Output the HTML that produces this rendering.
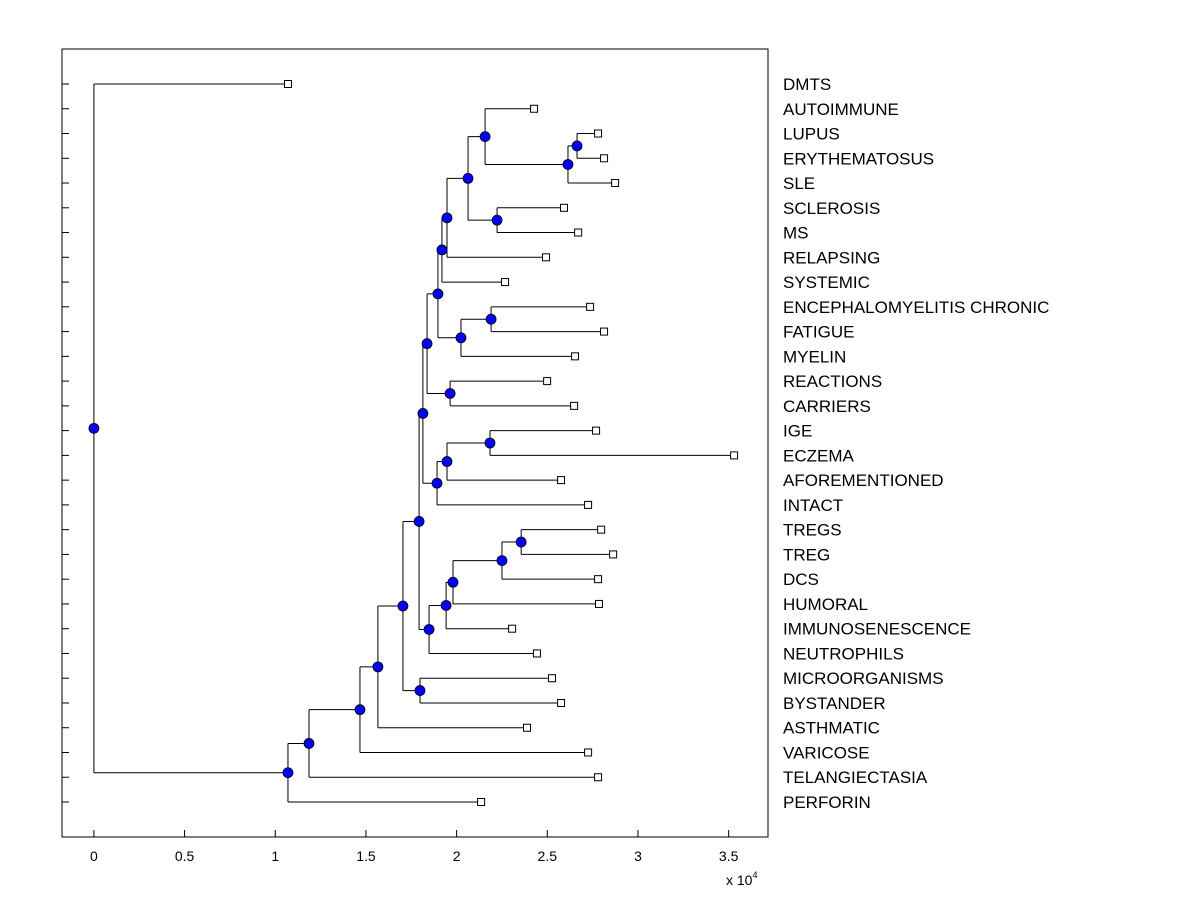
<!DOCTYPE html>
<html><head><meta charset="utf-8"><style>
body{margin:0;background:#fff;}
svg{display:block;font-family:"Liberation Sans",Arial,sans-serif;}
</style></head><body>
<svg id="c" width="1200" height="900" xmlns="http://www.w3.org/2000/svg"></svg>
<script>
const leafLabels=["DMTS","AUTOIMMUNE","LUPUS","ERYTHEMATOSUS","SLE","SCLEROSIS","MS","RELAPSING","SYSTEMIC","ENCEPHALOMYELITIS CHRONIC","FATIGUE","MYELIN","REACTIONS","CARRIERS","IGE","ECZEMA","AFOREMENTIONED","INTACT","TREGS","TREG","DCS","HUMORAL","IMMUNOSENESCENCE","NEUTROPHILS","MICROORGANISMS","BYSTANDER","ASTHMATIC","VARICOSE","TELANGIECTASIA","PERFORIN"];
const leafValues=[1.07,2.427,2.78,2.813,2.874,2.592,2.67,2.493,2.267,2.736,2.813,2.653,2.499,2.648,2.769,3.53,2.576,2.725,2.797,2.863,2.78,2.785,2.306,2.443,2.526,2.576,2.388,2.725,2.78,2.135];
const nodeNames=["nLu","nLE","nAu","nSM","nL","nS","nC","nEF","nF","nB","nRC","nA","nIG","nE","nI","nTop","nTT","nTreg","nD","nH","nBot","n6","nMB","n5","n4","n3","n2","nP","root"];
const nodeLeft=["LUPUS","nLu","AUTOIMMUNE","SCLEROSIS","nAu","nL","nS","ENCEPHALOMYELITIS CHRONIC","nEF","nC","REACTIONS","nB","IGE","nIG","nE","nA","TREGS","nTT","nTreg","nD","nH","nTop","MICROORGANISMS","n6","n5","n4","n3","n2","DMTS"];
const nodeRight=["ERYTHEMATOSUS","SLE","nLE","MS","nSM","RELAPSING","SYSTEMIC","FATIGUE","MYELIN","nF","CARRIERS","nRC","ECZEMA","AFOREMENTIONED","INTACT","nI","TREG","DCS","HUMORAL","IMMUNOSENESCENCE","NEUTROPHILS","nBot","BYSTANDER","nMB","ASTHMATIC","VARICOSE","TELANGIECTASIA","PERFORIN","nP"];
const nodeValues=[2.664,2.614,2.157,2.223,2.063,1.947,1.919,2.19,2.024,1.897,1.964,1.837,2.184,1.947,1.892,1.814,2.356,2.25,1.98,1.942,1.848,1.793,1.798,1.704,1.566,1.467,1.186,1.07,0];
const xTicks=[0,0.5,1,1.5,2,2.5,3,3.5];

const svg=document.getElementById('c');
const NS="http://www.w3.org/2000/svg";
const L=62,R=768,T=49,B=837;
const xMin=-0.176,xMax=3.717;
const X=v=>L+(v-xMin)/(xMax-xMin)*(R-L);
const Y0=84,DY=(802-84)/29;
function mk(tag,attrs,name,text){const e=document.createElementNS(NS,tag);for(const k in attrs)e.setAttribute(k,attrs[k]);


if(text!==undefined)e.textContent=text;svg.appendChild(e);return e;}
mk('rect',{x:L,y:T,width:R-L,height:B-T,fill:'#fff',stroke:'#000','stroke-width':1},'plot-area');
const pos={};
leafLabels.forEach((n,i)=>{pos[n]={x:X(leafValues[i]),y:Y0+i*DY,leaf:true};});
nodeNames.forEach((n,i)=>{const a=pos[nodeLeft[i]],b=pos[nodeRight[i]];pos[n]={x:X(nodeValues[i]),y:(a.y+b.y)/2,leaf:false};});
nodeNames.forEach((n,i)=>{const p=pos[n],a=pos[nodeLeft[i]],b=pos[nodeRight[i]];
 mk('line',{x1:p.x,y1:a.y,x2:p.x,y2:b.y,stroke:'#000'},'branch-vertical');
 mk('line',{x1:p.x,y1:a.y,x2:a.x,y2:a.y,stroke:'#000'},'branch-horizontal');
 mk('line',{x1:p.x,y1:b.y,x2:b.x,y2:b.y,stroke:'#000'},'branch-horizontal');});
leafLabels.forEach((n,i)=>{const p=pos[n];
 mk('line',{x1:L,y1:p.y,x2:L+7,y2:p.y,stroke:'#000'},'y-tick');
 mk('rect',{x:p.x-3.5,y:p.y-3.5,width:7,height:7,fill:'#fff',stroke:'#000'},'leaf-marker');
 mk('text',{x:783,y:p.y+6,'font-size':17,fill:'#000'},'leaf-label',n);});
nodeNames.forEach(n=>{const p=pos[n];mk('circle',{cx:p.x,cy:p.y,r:5,fill:'#0000ff',stroke:'#000','stroke-width':0.8},'node-marker');});
xTicks.forEach(t=>{const x=X(t);
 mk('line',{x1:x,y1:B,x2:x,y2:B-7,stroke:'#000'},'x-tick');
 mk('text',{x:x,y:861,'font-size':14,'text-anchor':'middle',fill:'#000'},'x-tick-label',String(t));});
const s=mk('text',{x:726,y:885,'font-size':14,fill:'#000'},'x-axis-exponent','x 10');
const sup=document.createElementNS(NS,'tspan');sup.setAttribute('dy','-7');sup.setAttribute('font-size','9');sup.textContent='4';s.appendChild(sup);
</script>
</body></html>
